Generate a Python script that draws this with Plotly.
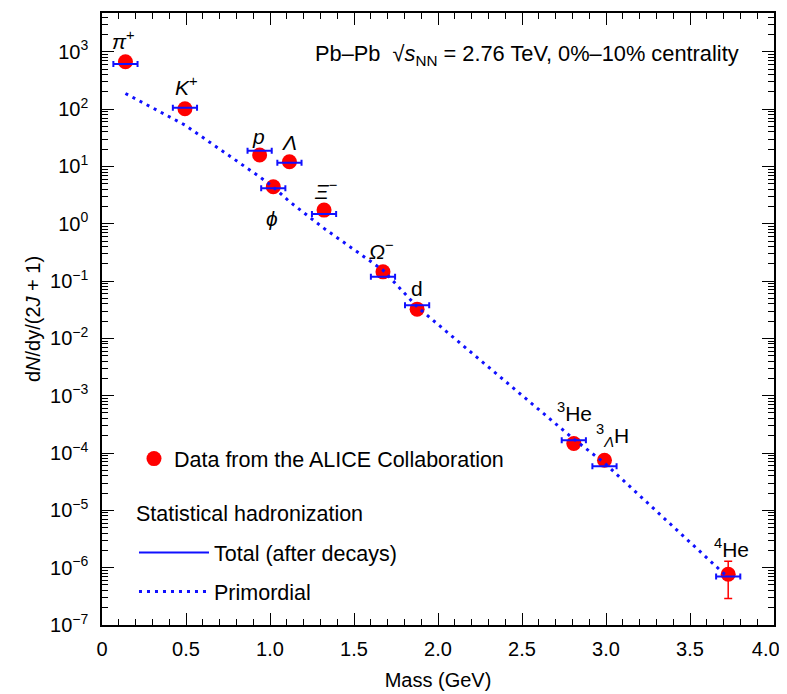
import numpy as np
import plotly.graph_objects as go

# ---------------- data ----------------
particles = ["π+", "K+", "p", "φ", "Λ", "Ξ−", "Ω−", "d", "3He", "3ΛH", "4He"]
mass_gev = [0.1396, 0.4937, 0.9383, 1.0195, 1.1157, 1.3217, 1.6725, 1.8756, 2.8084, 2.9910, 3.7274]
alice_yield = [672, 101.6, 15.8, 4.43, 12.1, 1.73, 0.145, 0.0324, 1.47e-4, 7.5e-5, 7.7e-7]
alice_err_plus = [None, None, None, None, None, None, None, None, None, None, 5.2e-7]
alice_err_minus = [None, None, None, None, None, None, None, None, None, None, 4.8e-7]
total_model = [612, 105.7, 18.8, 4.15, 11.6, 1.48, 0.119, 0.0377, 1.68e-4, 5.9e-5, 7.0e-7]
primordial_model = [187, 52.7, 6.6, 4.37, 2.44, 0.83, 0.155, 0.0356, 1.75e-4, 6.7e-5, 6.7e-7]
mass_halfwidth = [0.072] * 11

label_text = ["<i>π</i><sup>+</sup>", "<i>K</i><sup>+</sup>", "<i>p</i>", "<i>ϕ</i>", "<i>Λ</i>",
              "<i>Ξ</i><sup>−</sup>", "<i>Ω</i><sup>−</sup>", "d", "<sup>3</sup>He",
              "<sup>3</sup><sub><i>Λ</i></sub>H", "<sup>4</sup>He"]
x_tickvals = [0, 0.5, 1.0, 1.5, 2.0, 2.5, 3.0, 3.5, 4.0]
x_ticktext = ["0", "0.5", "1.0", "1.5", "2.0", "2.5", "3.0", "3.5", "4.0\u00a0\u00a0\u00a0"]
y_exponents = [-7, -6, -5, -4, -3, -2, -1, 0, 1, 2, 3]
y_tickvals = [10.0 ** e for e in y_exponents]
y_ticktext = ["10<sup>%s</sup>" % (str(e).replace("-", "−")) for e in y_exponents]

# ---------------- styles ----------------
label_dx = [-2, 2, -1, -1, 0, 1, -1, 0, 1, 8, 3]
label_dy = [22, 23, 19, -32, 19, 20, 22, 21, 31, 25, 26]
RED = "#ff0000"
BLUE = "#1010ff"
FONT = "Liberation Sans, Arial, Helvetica, sans-serif"

fig = go.Figure()

fig.add_trace(go.Scatter(
    x=mass_gev, y=alice_yield, mode="markers",
    marker=dict(color=RED, size=15, line=dict(width=0)),
    error_y=dict(type="data", symmetric=False, array=alice_err_plus, arrayminus=alice_err_minus,
                 color=RED, thickness=1.5, width=4),
    name="Data from the ALICE Collaboration", legend="legend",
))

fig.add_trace(go.Scatter(
    x=mass_gev, y=primordial_model, mode="lines",
    line=dict(color=BLUE, width=3, dash="3px,5px"),
    name="Primordial", legend="legend3",
))

fig.add_trace(go.Scatter(
    x=mass_gev, y=total_model, mode="markers",
    marker=dict(color=BLUE, size=1, opacity=0),
    error_x=dict(type="data", array=mass_halfwidth, color=BLUE, thickness=2, width=3),
    showlegend=False, hoverinfo="skip",
))

fig.add_trace(go.Scatter(
    x=[None], y=[None], mode="lines",
    line=dict(color=BLUE, width=2),
    name="Total (after decays)", legend="legend2",
))

for name, m, v, t, dx, dy in zip(particles, mass_gev, alice_yield, label_text, label_dx, label_dy):
    fig.add_annotation(x=m, y=np.log10(v), xref="x", yref="y", text=t, showarrow=False,
                       xshift=dx, yshift=dy, font=dict(size=21, color="black", family=FONT))

fig.add_annotation(
    x=0.9505, y=(625.5 - 55) / 612.5, xref="paper", yref="paper", xanchor="right", yanchor="middle",
    text="Pb–Pb  √<i>s</i><sub>NN</sub> = 2.76 TeV, 0%–10% centrality", showarrow=False,
    font=dict(size=21.8, color="black", family=FONT))

fig.add_annotation(
    x=0.0476, y=0.182, xref="paper", yref="paper", xanchor="left", yanchor="middle",
    text="Statistical hadronization", showarrow=False,
    font=dict(size=21.5, color="black", family=FONT))

axis_common = dict(showline=True, linecolor="black", linewidth=1.5, mirror="allticks",
                   ticks="inside", ticklen=12, tickwidth=1.2, tickcolor="black",
                   showgrid=False, zeroline=False, ticklabeloverflow="allow",
                   tickfont=dict(size=20, color="black", family=FONT))

fig.update_xaxes(range=[0, 4], tickmode="array", tickvals=x_tickvals, ticktext=x_ticktext,
                 minor=dict(ticks="inside", ticklen=6, dtick=0.1, tickcolor="black", tickwidth=1.2, showgrid=False),
                 title=dict(text="Mass (GeV)", font=dict(size=20, color="black", family=FONT), standoff=14),
                 ticklabelstandoff=5,
                 **axis_common)
fig.update_yaxes(type="log", range=[-7, 3.677], tickmode="array", tickvals=y_tickvals, ticktext=y_ticktext,
                 minor=dict(ticks="inside", ticklen=6, dtick="D1", tickcolor="black", tickwidth=1.2, showgrid=False),
                 title=dict(text="d<i>N</i>/dy/(2<i>J</i> + 1)", font=dict(size=20, color="black", family=FONT), standoff=4),
                 ticklabelstandoff=8,
                 **axis_common)

legend_common = dict(bgcolor="rgba(0,0,0,0)", borderwidth=0, xanchor="left", yanchor="middle",
                     font=dict(size=21.5, color="black", family=FONT))
# page has an 8 px body margin; size and margins compensate so the plot area lands where the reference has it
fig.update_layout(
    width=779, height=686,
    margin=dict(l=94, t=5, r=13, b=68.5, autoexpand=False),
    paper_bgcolor="white", plot_bgcolor="white",
    font=dict(family=FONT, color="black"),
    showlegend=True,
    legend=dict(x=0.0476, y=(625.5 - 459) / 612.5, **legend_common),
    legend2=dict(x=0.0476, y=(625.5 - 553) / 612.5, itemwidth=70, **legend_common),
    legend3=dict(x=0.0476, y=(625.5 - 592) / 612.5, itemwidth=70, **legend_common),
)

fig.write_html("out.html")
